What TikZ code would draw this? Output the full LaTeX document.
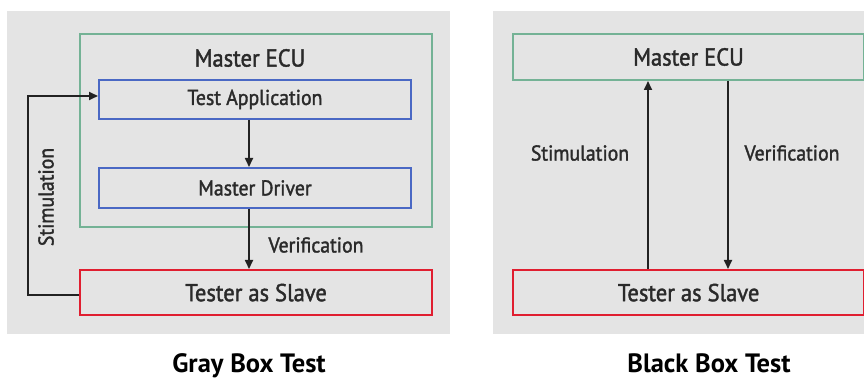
\documentclass[tikz,border=0pt]{standalone}
\usepackage{fontspec}
\setmainfont{PT Sans}
\newfontfamily\lblfont[FakeStretch=0.92,FakeBold=1.6]{PT Sans}
\usetikzlibrary{arrows.meta}
\definecolor{panel}{HTML}{E4E4E4}
\definecolor{ecugreen}{HTML}{74B295}
\definecolor{swblue}{HTML}{4A68C4}
\definecolor{testred}{HTML}{E01E30}
\definecolor{arr}{HTML}{222222}
\definecolor{txt}{HTML}{2A2A2A}
\begin{document}
\begin{tikzpicture}[x=1pt,y=-1pt,
  box/.style={draw,line width=2pt,inner sep=0pt,anchor=north west},
  ecubox/.style={box,draw=ecugreen},
  swbox/.style={box,draw=swblue,line width=1.9pt},
  slavebox/.style={box,draw=testred,line width=2.2pt},
  lbl/.style={font=\lblfont\fontsize{21.5}{23}\selectfont,text=txt,inner sep=0pt},
  biglbl/.style={font=\lblfont\fontsize{24.5}{26}\selectfont,text=txt,inner sep=0pt},
  captiontext/.style={font=\bfseries\fontsize{26.5}{28}\selectfont,text=black,inner sep=0pt},
  conn/.style={draw=arr,line width=1.7pt,-{Triangle[length=9pt,width=8pt]}}]
\useasboundingbox (0,0) rectangle (864,379);
\fill[white] (0,0) rectangle (864,379);
% panels
\fill[panel] (7,11) rectangle (450,334);
\fill[panel] (493,11) rectangle (864,334);
% ---------- Gray box test ----------
\node[ecubox,minimum width=352pt,minimum height=193pt] (ecuL) at (79,33) {};
\node[biglbl] (ecuLt) at (250,58) {Master ECU};
\node[swbox,minimum width=312pt,minimum height=39pt] (app) at (98,79) {};
\node[lbl] at (app.center) {Test Application};
\node[swbox,minimum width=312pt,minimum height=40pt] (drv) at (98,167) {};
\node[lbl] at (drv.center) {Master Driver};
\node[slavebox,minimum width=352pt,minimum height=45pt] (slaveL) at (79,269) {};
\node[biglbl] at (slaveL.center) {Tester as Slave};
\draw[conn] (app.south -| 249,0) -- (drv.north -| 249,0);
\draw[conn] (drv.south -| 249,0) -- (slaveL.north -| 249,0);
\node[lbl] (verL) at (316,245) {Verification};
\coordinate (s1) at (28,295);
\coordinate (s2) at (28,96);
\draw[conn] (slaveL.west |- s1) -- (s1) -- (s2) -- (app.west |- s2);
\node[lbl,rotate=90] (stimL) at (46,197) {Stimulation};
% ---------- Black box test ----------
\node[ecubox,minimum width=351pt,minimum height=46pt] (ecuR) at (512,33) {};
\node[biglbl] at (ecuR.center) {Master ECU};
\node[slavebox,minimum width=351pt,minimum height=45pt] (slaveR) at (512,269) {};
\node[biglbl] at (slaveR.center) {Tester as Slave};
\draw[conn] (slaveR.north -| 648,0) -- (ecuR.south -| 648,0);
\draw[conn] (ecuR.south -| 728,0) -- (slaveR.north -| 728,0);
\node[lbl] (stimR) at (580,153) {Stimulation};
\node[lbl] (verR) at (792,153) {Verification};
% captions
\node[captiontext,anchor=base] (capL) at (249,372) {Gray Box Test};
\node[captiontext,anchor=base] (capR) at (709,372) {Black Box Test};
\end{tikzpicture}
\end{document}
